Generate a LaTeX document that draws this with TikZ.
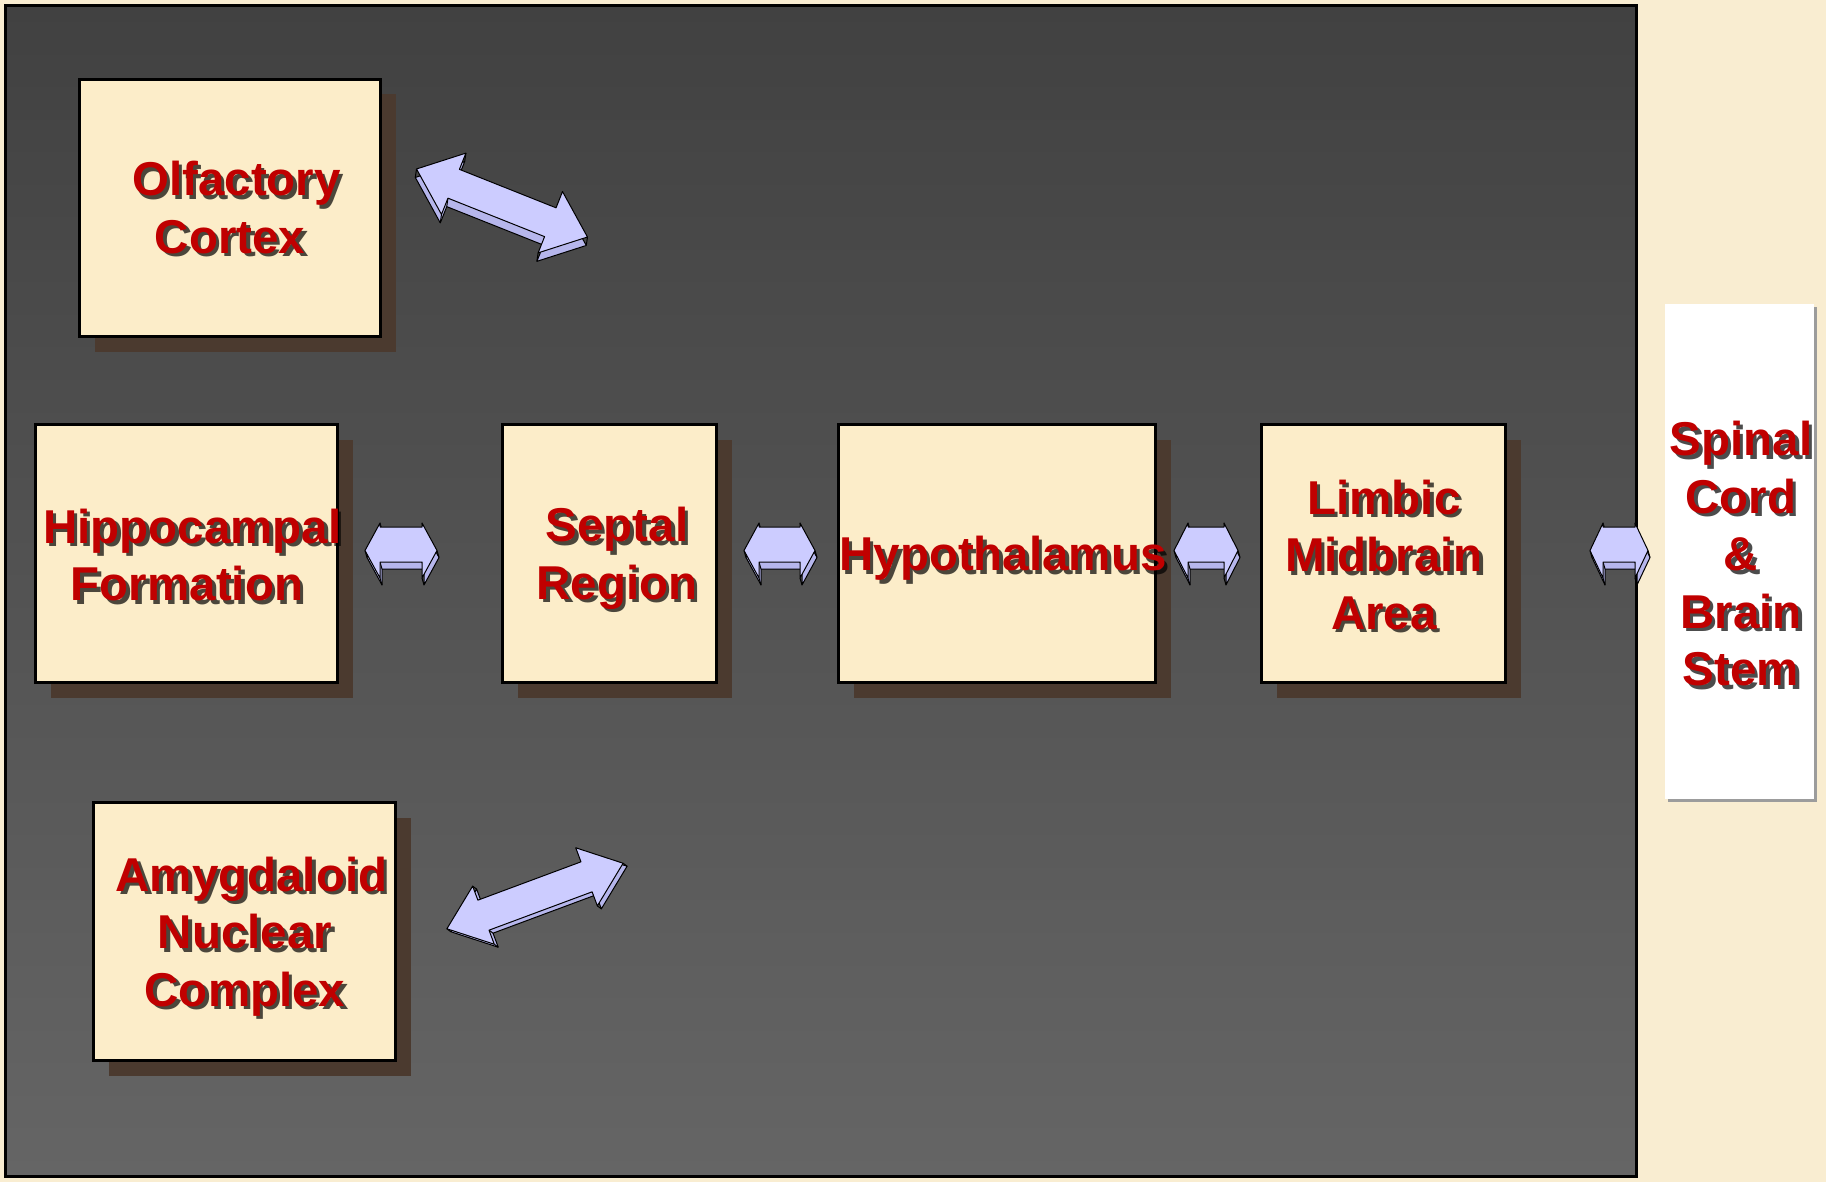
\documentclass[tikz,border=0pt]{standalone}
\usepackage{fontspec}
\setmainfont{Liberation Sans}
\usetikzlibrary{shadows}
\definecolor{parch}{HTML}{F9EDD1}
\definecolor{panTop}{HTML}{414141}
\definecolor{panBot}{HTML}{656565}
\definecolor{boxfill}{HTML}{FCEDC9}
\definecolor{boxshadow}{HTML}{4B3A2F}
\definecolor{txtred}{HTML}{C00000}
\definecolor{arrfront}{HTML}{CCCCFF}
\definecolor{arrsidec}{HTML}{B6B6EC}
\definecolor{grayshadow}{HTML}{9C9C9C}

\tikzset{
  /barrow/.cd,
  L/.store in=\baL, h/.store in=\bah, wa/.store in=\bawa, wb/.store in=\bawb,
  k/.store in=\bak, dx/.store in=\badx, dy/.store in=\bady,
  L=70, h=27, wa=17, wb=17, k=16, dx=3, dy=6,
  /tikz/.cd,
  region/.style={draw=black, line width=3pt, fill=boxfill, inner sep=0pt,
    minimum height=258pt,
    drop shadow={shadow xshift=15pt, shadow yshift=-15pt, fill=boxshadow, opacity=1}},
  whitebox/.style={fill=white, inner sep=0pt,
    drop shadow={shadow xshift=3pt, shadow yshift=-3pt, fill=grayshadow, opacity=1}},
  lbl/.style={font=\fontsize{47.5pt}{57.5pt}\selectfont\bfseries, text=txtred,
    align=center, inner sep=0pt},
  lblshadow/.style={lbl, text=black, text opacity=0.7},
  arrline/.style={draw=black, line width=1pt, line join=round},
  bapath/.style={insert path={(\xa,0) -- (\xb,-\bah) -- (\xb,-\bawa) -- (\xc,-\bawa)
    -- (\xc,-\bah) -- (\xd,0) -- (\xc,\bah) -- (\xc,\bawb) -- (\xb,\bawb)
    -- (\xb,\bah) -- cycle}},
}

\newcommand\shadowlabel[3]{%
  \node[lblshadow] (#1s) at ([shift={(3.5,3.5)}]#2) {#3};
  \node[lbl] (#1) at (#2) {#3};}

\newcommand\baedge[2]{\draw[arrline] (#1,#2) -- ({#1+\badx},{#2+\bady});}

% #1 options, #2 centre, #3 angle
\newcommand\blockarrow[3]{%
  \begin{scope}[shift={(#2)}, rotate=#3]
    \pgfkeys{/barrow/.cd,#1}
    \pgfmathsetmacro\xa{-\baL/2}
    \pgfmathsetmacro\xb{-\baL/2+\bak}
    \pgfmathsetmacro\xc{\baL/2-\bak}
    \pgfmathsetmacro\xd{\baL/2}
    \begin{scope}[shift={(\badx,\bady)}]
      \path[arrline, fill=arrsidec, bapath];
    \end{scope}
    \baedge{\xa}{0}
    \baedge{\xb}{-\bah}
    \baedge{\xc}{-\bah}
    \baedge{\xd}{0}
    \baedge{\xc}{\bah}
    \baedge{\xb}{\bah}
    \baedge{\xb}{\bawb}
    \baedge{\xc}{\bawb}
    \path[arrline, fill=arrfront, bapath];
  \end{scope}}

\begin{document}
\begin{tikzpicture}[x=1pt, y=-1pt]
\useasboundingbox (0,0) rectangle (1826,1182);
\fill[parch] (0,0) rectangle (1826,1182);

% dark panel
\draw[line width=3pt, top color=panTop, bottom color=panBot] (5.5,5.5) rectangle (1636.5,1176.5);

% boxes
\node[region, minimum width=301pt, minimum height=257pt] (olf) at (230,208) {};
\node[region, minimum width=302pt] (hip) at (186.5,553.5) {};
\node[region, minimum width=214pt] (sep) at (609.5,553.5) {};
\node[region, minimum width=317pt] (hyp) at (997,553.5) {};
\node[region, minimum width=244pt] (lim) at (1383.5,553.5) {};
\node[region, minimum width=302pt] (amy) at (244.5,931.5) {};
\node[whitebox, minimum width=149pt, minimum height=495pt] (spi) at (1739.5,551.5) {};

% block arrows
\blockarrow{L=184, h=33, wa=15.5, wb=15.5, k=40, dx=2, dy=8.3}{502,203}{-21.7}
\blockarrow{L=188, h=31, wa=16, wb=16, k=39, dx=2.7, dy=4.2}{535,896}{20.4}
\blockarrow{L=72, h=27.5, wa=23.5, wb=11.5, k=15, dx=2, dy=7}{401,550.5}{0}
\blockarrow{L=71, h=27.5, wa=23.5, wb=11.5, k=15, dx=2, dy=7}{779.5,550.5}{0}
\blockarrow{L=64, h=27.5, wa=23.5, wb=11.5, k=14, dx=2, dy=7}{1206,550.5}{0}
\blockarrow{L=58, h=27.5, wa=23.5, wb=11.5, k=13, dx=2, dy=7}{1619,550.5}{0}

% labels
\shadowlabel{olft}{230,207.5}{\hspace*{13pt}Olfactory\\Cortex}
\shadowlabel{hipt}{187,555}{\hspace*{10.5pt}Hippocampal\\Formation}
\shadowlabel{sept}{617,558.5}{Septal\\Region}
\shadowlabel{hypt}{1003,558.5}{Hypothalamus}
\shadowlabel{limt}{1384,555}{Limbic\\Midbrain\\Area}
\shadowlabel{amyt}{245,936.5}{\hspace*{13pt}Amygdaloid\\Nuclear\\Complex}
\shadowlabel{spit}{1741,554}{Spinal\\Cord\\\&\\Brain\\Stem}
\end{tikzpicture}
\end{document}
